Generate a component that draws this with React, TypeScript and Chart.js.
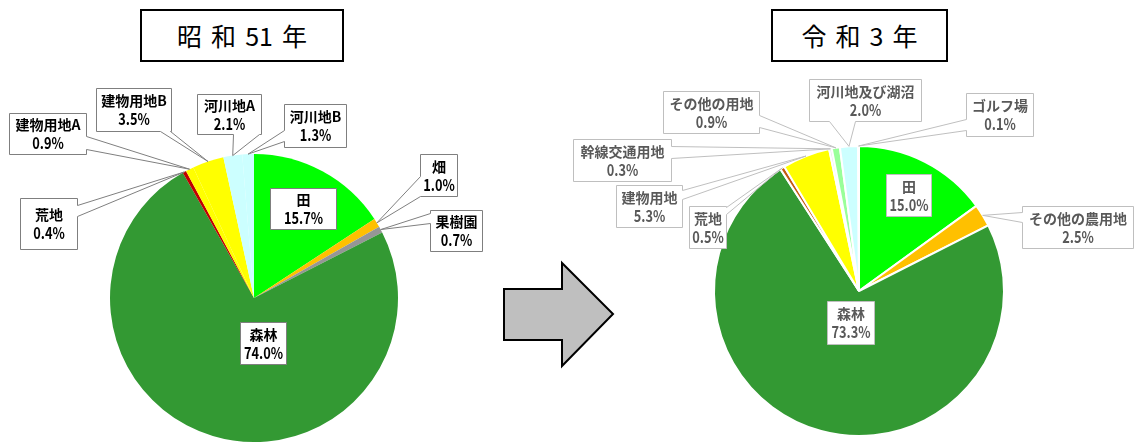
import React, { useEffect, useRef } from "react";
import { Chart, registerables } from "chart.js";

Chart.register(...registerables);

// ---- Data: 昭和51年 ----
const categoriesS51 = ["田", "畑", "果樹園", "森林", "荒地", "建物用地A", "建物用地B", "河川地A", "河川地B"];
const valuesS51 = [15.7, 1.0, 0.7, 74.0, 0.4, 0.9, 3.5, 2.1, 1.3];
const colorsS51 = ["#00FF00", "#FFC000", "#969696", "#339933", "#C00000", "#FFFF00", "#FFFF00", "#CCFFFF", "#CCFFFF"];

// ---- Data: 令和3年 ----
const categoriesR3 = ["田", "その他の農用地", "森林", "荒地", "建物用地", "幹線交通用地", "その他の用地", "河川地及び湖沼", "ゴルフ場"];
const valuesR3 = [15.0, 2.5, 73.3, 0.5, 5.3, 0.3, 0.9, 2.0, 0.1];
const colorsR3 = ["#00FF00", "#FFC000", "#339933", "#C55A11", "#FFFF00", "#E6E6E6", "#99FF99", "#CCFFFF", "#66FF66"];

const titleS51 = ["昭", "和", "51", "年"];
const titleR3 = ["令", "和", "3", "年"];

// ---- Layout of the callout boxes (page coordinates) ----
type Wedge = { edge: "l" | "r" | "t" | "b"; a: number; b: number };
type Box = { x: number; y: number; w: number; h: number; wedge?: Wedge };

const boxesS51: Box[] = [
  { x: 270, y: 188, w: 66, h: 41 },
  { x: 420, y: 154, w: 37, h: 42, wedge: { edge: "l", a: 176, b: 196 } },
  { x: 430, y: 210, w: 52, h: 41, wedge: { edge: "l", a: 213, b: 223 } },
  { x: 240, y: 322, w: 46, h: 42 },
  { x: 20, y: 198, w: 57, h: 51, wedge: { edge: "r", a: 205, b: 216 } },
  { x: 9, y: 113, w: 77, h: 41, wedge: { edge: "r", a: 136, b: 149 } },
  { x: 96, y: 88, w: 75, h: 43, wedge: { edge: "b", a: 160, b: 170 } },
  { x: 197, y: 94, w: 64, h: 40, wedge: { edge: "b", a: 233, b: 259 } },
  { x: 284, y: 104, w: 62, h: 43, wedge: { edge: "l", a: 130, b: 141 } },
];

const boxesR3: Box[] = [
  { x: 886, y: 174, w: 45, h: 42 },
  { x: 1022, y: 206, w: 111, h: 42, wedge: { edge: "l", a: 212, b: 222 } },
  { x: 827, y: 301, w: 47, h: 43 },
  { x: 689, y: 206, w: 37, h: 42, wedge: { edge: "r", a: 207, b: 214 } },
  { x: 616, y: 185, w: 66, h: 42, wedge: { edge: "r", a: 190, b: 199 } },
  { x: 573, y: 139, w: 98, h: 42, wedge: { edge: "r", a: 146, b: 158 } },
  { x: 663, y: 91, w: 96, h: 42, wedge: { edge: "r", a: 115, b: 127 } },
  { x: 809, y: 79, w: 112, h: 42, wedge: { edge: "b", a: 829, b: 855 } },
  { x: 966, y: 93, w: 67, h: 43, wedge: { edge: "l", a: 119, b: 130 } },
];

function makeCallouts(
  id: string,
  boxes: Box[],
  names: string[],
  values: number[],
  offsetX: number,
  textColor: string,
  lineColor: string
) {
  return {
    id,
    afterDatasetsDraw(chart: any) {
      const ctx: CanvasRenderingContext2D = chart.ctx;
      const meta = chart.getDatasetMeta(0);
      ctx.save();
      meta.data.forEach((arc: any, i: number) => {
        const box = boxes[i];
        if (!box) return;
        const mid = (arc.startAngle + arc.endAngle) / 2;
        const tx = arc.x + arc.outerRadius * Math.cos(mid);
        const ty = arc.y + arc.outerRadius * Math.sin(mid);
        const x = box.x - offsetX + 0.5;
        const y = box.y + 0.5;
        const w = box.w;
        const h = box.h;
        const wd = box.wedge;
        ctx.beginPath();
        ctx.moveTo(x, y);
        if (wd && wd.edge === "t") {
          ctx.lineTo(wd.a - offsetX + 0.5, y);
          ctx.lineTo(tx, ty);
          ctx.lineTo(wd.b - offsetX + 0.5, y);
        }
        ctx.lineTo(x + w, y);
        if (wd && wd.edge === "r") {
          ctx.lineTo(x + w, wd.a + 0.5);
          ctx.lineTo(tx, ty);
          ctx.lineTo(x + w, wd.b + 0.5);
        }
        ctx.lineTo(x + w, y + h);
        if (wd && wd.edge === "b") {
          ctx.lineTo(wd.b - offsetX + 0.5, y + h);
          ctx.lineTo(tx, ty);
          ctx.lineTo(wd.a - offsetX + 0.5, y + h);
        }
        ctx.lineTo(x, y + h);
        if (wd && wd.edge === "l") {
          ctx.lineTo(x, wd.b + 0.5);
          ctx.lineTo(tx, ty);
          ctx.lineTo(x, wd.a + 0.5);
        }
        ctx.closePath();
        ctx.fillStyle = "#FFFFFF";
        ctx.fill();
        ctx.strokeStyle = lineColor;
        ctx.lineWidth = 1;
        ctx.lineJoin = "miter";
        ctx.stroke();

        ctx.fillStyle = textColor;
        ctx.textAlign = "center";
        ctx.textBaseline = "middle";
        const cx = x + w / 2;
        const cy = y + h / 2;
        ctx.font = 'bold 14px "Noto Sans CJK JP", sans-serif';
        ctx.fillText(names[i], cx, cy - 9);
        ctx.save();
        ctx.translate(cx, cy + 9);
        ctx.scale(0.8, 1);
        ctx.font = 'bold 16px "Noto Sans CJK JP", sans-serif';
        ctx.fillText(values[i].toFixed(1) + "%", 0, 0);
        ctx.restore();
      });
      ctx.restore();
    },
  };
}

function TitleBox({ left, top, width, height, parts }: { left: number; top: number; width: number; height: number; parts: string[] }) {
  return (
    <div
      style={{
        position: "absolute",
        left,
        top,
        width,
        height,
        border: "2px solid #000",
        boxSizing: "border-box",
        display: "flex",
        alignItems: "center",
        justifyContent: "center",
        gap: 9,
        fontFamily: '"Noto Sans CJK JP", sans-serif',
        fontSize: 25,
        color: "#000",
        background: "#fff",
        lineHeight: 1,
      }}
    >
      {parts.map((p, i) => (
        <span key={i}>{p}</span>
      ))}
    </div>
  );
}

export default function App() {
  const leftRef = useRef<HTMLCanvasElement | null>(null);
  const rightRef = useRef<HTMLCanvasElement | null>(null);

  useEffect(() => {
    const left = new Chart(leftRef.current as HTMLCanvasElement, {
      type: "pie",
      data: {
        labels: categoriesS51,
        datasets: [{ data: valuesS51, backgroundColor: colorsS51, borderWidth: 0 }],
      },
      options: {
        responsive: false,
        animation: false,
        events: [],
        layout: { padding: { left: 110, right: 162, top: 154, bottom: 1 } },
        plugins: { legend: { display: false }, tooltip: { enabled: false } },
      },
      plugins: [makeCallouts("calloutsS51", boxesS51, categoriesS51, valuesS51, 0, "#000000", "#7F7F7F")],
    });
    const right = new Chart(rightRef.current as HTMLCanvasElement, {
      type: "pie",
      data: {
        labels: categoriesR3,
        datasets: [{ data: valuesR3, backgroundColor: colorsR3, borderWidth: 2, borderColor: "#FFFFFF" }],
      },
      options: {
        responsive: false,
        animation: false,
        events: [],
        layout: { padding: { left: 153, right: 129, top: 145, bottom: 6 } },
        plugins: { legend: { display: false }, tooltip: { enabled: false } },
      },
      plugins: [makeCallouts("calloutsR3", boxesR3, categoriesR3, valuesR3, 560, "#595959", "#BFBFBF")],
    });
    return () => {
      left.destroy();
      right.destroy();
    };
  }, []);

  return (
    <div style={{ position: "absolute", left: 0, top: 0, width: 1134, height: 443, background: "#fff", overflow: "hidden" }}>
      <canvas ref={leftRef} width={560} height={443} style={{ position: "absolute", left: 0, top: 0 }} />
      <canvas ref={rightRef} width={574} height={443} style={{ position: "absolute", left: 560, top: 0 }} />
      <TitleBox left={140} top={9} width={204} height={53} parts={titleS51} />
      <TitleBox left={771} top={9} width={177} height={53} parts={titleR3} />
      <svg width={1134} height={443} style={{ position: "absolute", left: 0, top: 0, pointerEvents: "none" }}>
        <polygon
          points="504,289 562,289 562,263 613,314 562,366 562,340 504,340"
          fill="#BFBFBF"
          stroke="#000"
          strokeWidth={2}
        />
      </svg>
    </div>
  );
}
